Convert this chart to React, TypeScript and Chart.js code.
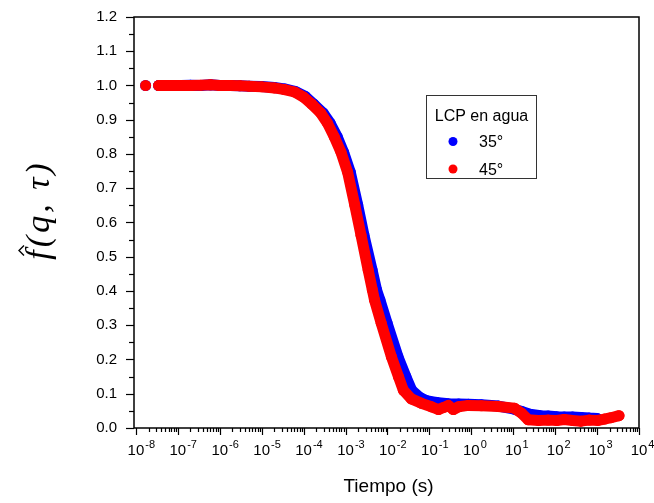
import React, { useEffect, useRef } from "react";
import { Chart, registerables } from "chart.js";

Chart.register(...registerables);

// ---- Data ----
const seriesLabels = ["35°", "45°"];
const legendTitle = "LCP en agua";
const xTitle = "Tiempo (s)";

// 35° (blue)
const blueTime = [
  1.7e-8, 3.5e-8, 6e-8, 8e-8, 1.2e-7, 2e-7, 3.5e-7, 6e-7, 1e-6, 1.8e-6, 3e-6, 5e-6,
  1e-5, 2e-5, 3.5e-5, 6.5e-5, 1.1e-4, 1.73e-4, 2.91e-4, 4.3e-4, 6.34e-4, 9e-4,
  1.3e-3, 1.95e-3, 2.75e-3, 4.3e-3, 5.5e-3, 6.6e-3, 9.8e-3, 1.78e-2, 2.75e-2, 3.8e-2,
  5.8e-2, 8.5e-2, 0.112, 0.164, 0.283, 0.5, 0.85, 1.73, 4.4, 10.6, 16, 25, 45, 68, 110,
  164, 260, 416, 650, 1000,
];
const blueValue = [
  1.0, 1.0, 1.0, 1.0, 1.0, 1.001, 1.0, 1.002, 1.0, 1.0, 0.999, 0.998,
  0.997, 0.994, 0.99, 0.982, 0.968, 0.946, 0.92, 0.89, 0.85, 0.805,
  0.747, 0.651, 0.563, 0.461, 0.403, 0.374, 0.306, 0.208, 0.15, 0.11,
  0.09, 0.08, 0.077, 0.074, 0.071, 0.07, 0.069, 0.068, 0.064, 0.055, 0.048, 0.04, 0.036, 0.035, 0.033,
  0.032, 0.032, 0.031, 0.029, 0.028,
];

// 45° (red)
const redTime = [
  1.7e-8, 3.5e-8, 6e-8, 8e-8, 1.2e-7, 2e-7, 3.5e-7, 6e-7, 1e-6, 1.8e-6, 3e-6, 5e-6,
  1e-5, 2e-5, 3.5e-5, 6.1e-5, 1e-4, 1.55e-4, 2.54e-4, 3.7e-4, 5.38e-4, 7.8e-4,
  1.12e-3, 1.66e-3, 2.34e-3, 3.47e-3, 4.36e-3, 4.9e-3, 7.1e-3, 1.24e-2, 1.83e-2, 2.4e-2,
  3.72e-2, 6.46e-2, 0.112, 0.164, 0.22, 0.283, 0.372, 0.5, 0.85, 1.73, 4.4, 10.6,
  15.5, 22.7, 40, 68, 110, 164, 260, 416, 650, 1057, 1500, 2150, 3340,
];
const redValue = [
  1.0, 1.0, 1.0, 1.0, 1.0, 1.0, 1.001, 1.002, 1.0, 1.0, 0.999, 0.998,
  0.996, 0.993, 0.988, 0.981, 0.966, 0.946, 0.92, 0.89, 0.85, 0.805,
  0.747, 0.651, 0.563, 0.461, 0.403, 0.374, 0.306, 0.208, 0.15, 0.11,
  0.085, 0.072, 0.062, 0.054, 0.06, 0.066, 0.054, 0.062, 0.066, 0.065, 0.063, 0.058,
  0.044, 0.024, 0.022, 0.023, 0.022, 0.025, 0.022, 0.02, 0.023, 0.022, 0.026, 0.03, 0.036,
];

const yMin = 0;
const yMax = 1.2;
const yStep = 0.1;
const yMinorStep = 0.05;
const xMin = 9.2e-9;
const xMax = 1e4;
const xDecades = [-8, -7, -6, -5, -4, -3, -2, -1, 0, 1, 2, 3, 4];

const BLUE = "#0000ff";
const RED = "#ff0000";
const SANS = "'Liberation Sans', Arial, sans-serif";
const SERIF = "'Liberation Serif', 'Times New Roman', serif";

const toPoints = (t: number[], v: number[]) => t.map((x, i) => ({ x, y: v[i] }));

const decorPlugin = {
  id: "decor",
  afterDraw(chart: any) {
    const { ctx, chartArea, scales } = chart;
    const { left, right, top, bottom } = chartArea;
    const xs = scales.x;
    const ys = scales.y;
    ctx.save();
    ctx.strokeStyle = "#000";
    ctx.fillStyle = "#000";
    ctx.lineWidth = 1.5;
    // frame
    ctx.strokeRect(left, top, right - left, bottom - top);

    // y ticks
    ctx.lineWidth = 1.2;
    const nMinor = Math.round((yMax - yMin) / yMinorStep);
    for (let i = 0; i <= nMinor; i++) {
      const v = yMin + i * yMinorStep;
      const py = Math.round(ys.getPixelForValue(v)) + 0.5;
      const major = i % 2 === 0;
      const len = major ? 8 : 5;
      ctx.beginPath();
      ctx.moveTo(left, py);
      ctx.lineTo(left - len, py);
      ctx.stroke();
    }

    // x ticks
    for (let d = -9; d <= 4; d++) {
      for (let m = 1; m <= 9; m++) {
        const v = m * Math.pow(10, d);
        if (v < xMin * 0.999 || v > xMax * 1.001) continue;
        const px = Math.round(xs.getPixelForValue(v)) + 0.5;
        const len = m === 1 ? 7 : 4;
        ctx.beginPath();
        ctx.moveTo(px, bottom);
        ctx.lineTo(px, bottom + len);
        ctx.stroke();
      }
    }

    // x tick labels with superscripts
    ctx.textBaseline = "alphabetic";
    for (const d of xDecades) {
      const px = xs.getPixelForValue(Math.pow(10, d));
      ctx.font = `15px ${SANS}`;
      const base = "10";
      const bw = ctx.measureText(base).width;
      ctx.textAlign = "left";
      ctx.fillText(base, px - bw / 2, bottom + 27);
      ctx.font = `11px ${SANS}`;
      ctx.fillText(String(d), px + bw / 2 + 1, bottom + 20);
    }

    // x title
    ctx.font = `19px ${SANS}`;
    ctx.textAlign = "center";
    ctx.fillText(xTitle, (left + right) / 2 + 2, 492);

    // y title (rotated)
    ctx.save();
    ctx.translate(40, 210);
    ctx.rotate(-Math.PI / 2);
    ctx.font = `italic 34px ${SERIF}`;
    (ctx as any).letterSpacing = "3px";
    const title = "f(q, τ)";
    const tw = ctx.measureText(title).width;
    ctx.textAlign = "left";
    ctx.fillText(title, -tw / 2, 9);
    const fw = ctx.measureText("f").width;
    // hat over f
    const hu = -tw / 2 + fw * 0.5 + 3;
    ctx.lineWidth = 1.4;
    ctx.beginPath();
    ctx.moveTo(hu - 5, -16);
    ctx.lineTo(hu, -21);
    ctx.lineTo(hu + 5, -16);
    ctx.stroke();
    ctx.restore();

    // legend
    ctx.lineWidth = 1;
    ctx.strokeStyle = "#333";
    ctx.strokeRect(426.5, 95.5, 110, 83);
    ctx.fillStyle = "#000";
    ctx.font = `16px ${SANS}`;
    ctx.textAlign = "center";
    ctx.fillText(legendTitle, 481.5, 121);
    const items = [
      { label: seriesLabels[0], color: BLUE, y: 141.5, base: 147 },
      { label: seriesLabels[1], color: RED, y: 169, base: 174.5 },
    ];
    for (const it of items) {
      ctx.fillStyle = it.color;
      ctx.beginPath();
      ctx.arc(453, it.y, 4.5, 0, Math.PI * 2);
      ctx.fill();
      ctx.fillStyle = "#000";
      ctx.textAlign = "left";
      ctx.fillText(it.label, 479, it.base);
    }
    ctx.restore();
  },
};

export default function App() {
  const ref = useRef<HTMLCanvasElement | null>(null);
  useEffect(() => {
    if (!ref.current) return;
    const mk = (label: string, t: number[], v: number[], color: string) => ({
      label,
      data: toPoints(t, v),
      backgroundColor: color,
      borderColor: color,
      pointRadius: 5.5,
      pointHoverRadius: 5.5,
      pointBorderWidth: 0,
      showLine: true,
      borderWidth: 11,
      borderJoinStyle: "round" as const,
      borderCapStyle: "round" as const,
      segment: {
        borderColor: (c: any) => (c.p0DataIndex === 0 ? "rgba(0,0,0,0)" : color),
      },
    });
    const chart = new Chart(ref.current, {
      type: "scatter",
      data: {
        datasets: [
          mk(seriesLabels[1], redTime, redValue, RED),
          mk(seriesLabels[0], blueTime, blueValue, BLUE),
        ],
      },
      options: {
        animation: false,
        responsive: false,
        maintainAspectRatio: false,
        layout: { autoPadding: false, padding: { top: 17, right: 15, left: 0, bottom: 0 } },
        plugins: { legend: { display: false }, tooltip: { enabled: false } },
        scales: {
          x: {
            type: "logarithmic",
            min: xMin,
            max: xMax,
            grid: { display: false, drawTicks: false },
            border: { display: false },
            ticks: { display: false },
            afterFit: (s: any) => {
              s.height = 75;
            },
          },
          y: {
            type: "linear",
            min: yMin,
            max: yMax,
            grid: { display: false, drawTicks: false },
            border: { display: false },
            ticks: {
              stepSize: yStep,
              padding: 17,
              color: "#000",
              font: { family: SANS, size: 15 },
              callback: (v: any) => Number(v).toFixed(1),
            },
            afterFit: (s: any) => {
              s.width = 134;
              s.paddingTop = 0;
              s.paddingBottom = 0;
            },
          },
        },
      },
      plugins: [decorPlugin],
    });
    return () => chart.destroy();
  }, []);
  return (
    <div style={{ position: "fixed", left: 0, top: 0, width: 654, height: 503, background: "#fff" }}>
      <canvas ref={ref} width={654} height={503} style={{ display: "block", width: 654, height: 503 }} />
    </div>
  );
}
